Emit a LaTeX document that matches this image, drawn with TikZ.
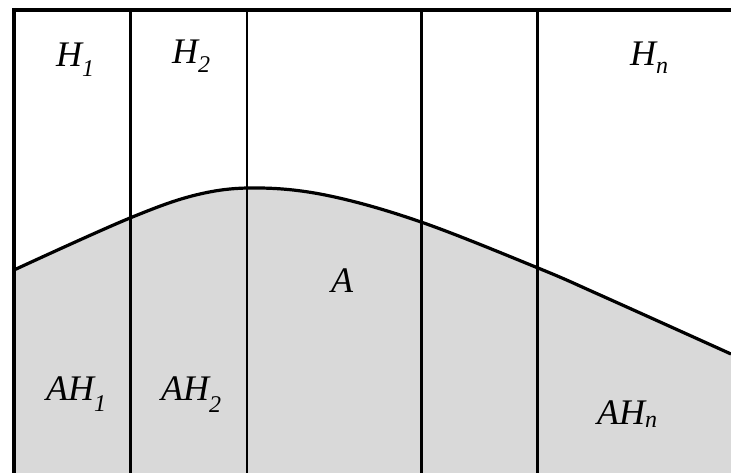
\documentclass[tikz,border=0pt]{standalone}
\usepackage{fontspec}
\setmainfont{Liberation Serif}
\newcommand\lowsub[2]{\raisebox{-#1pt}{\fontsize{24}{24}\selectfont #2}}
\definecolor{shade}{RGB}{217,217,217}
\begin{document}
\begin{tikzpicture}[x=1pt,y=1pt,
  lab/.style={anchor=base west, inner sep=0pt, font=\fontsize{36}{40}\selectfont\itshape},
  thickrule/.style={line width=4.5pt},
  midrule/.style={line width=3.5pt},
  thinrule/.style={line width=2.7pt},
  curveline/.style={line width=3.2pt}]
\useasboundingbox (0,0) rectangle (731,473);
% corner coordinates
\coordinate (bl) at (14,0);
\coordinate (br) at (731,0);
% shaded region A
\path[fill=shade] (bl) -- plot[smooth, tension=0.6] coordinates {(14,203) (130,255) (200,279) (260,285) (330,277) (421,251) (538,205) (600,178) (731,119)} -- (br) -- cycle;
% frame and columns
\coordinate (tl) at (12,463);
\coordinate (tr) at (731,463);
\draw[thickrule] (tl) -- (tr);
\draw[thickrule] (14,465) -- (bl);
\draw[midrule] (130.5,463) -- (130.5,0);
\draw[thinrule] (247,463) -- (247,0);
\draw[thinrule] (421.5,463) -- (421.5,0);
\draw[thinrule] (537.5,463) -- (537.5,0);
% curve
\draw[curveline] plot[smooth, tension=0.6] coordinates {(14,203) (130,255) (200,279) (260,285) (330,277) (421,251) (538,205) (600,178) (731,119)};
% labels
\node[lab] (h1) at (56,406) {H\lowsub{10}{1}};
\node[lab] (h2) at (172,409) {H\lowsub{9}{2}};
\node[lab] (hn) at (630,407) {H\lowsub{8}{n}};
\node[lab] (a) at (331,180) {A};
\node[lab] (ah1) at (46,72) {AH\lowsub{11}{1}};
\node[lab] (ah2) at (161,72) {AH\lowsub{12}{2}};
\node[lab] (ahn) at (597,48) {AH\lowsub{3}{n}};
\end{tikzpicture}
\end{document}
